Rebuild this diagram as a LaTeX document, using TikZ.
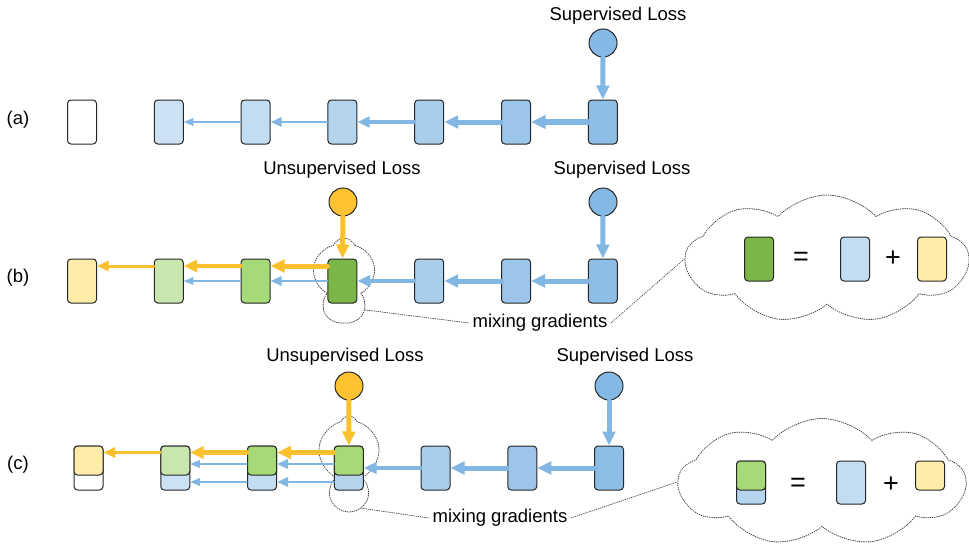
\documentclass[tikz,border=0pt]{standalone}
\usepackage{fontspec}
\setmainfont{Liberation Sans}
\usetikzlibrary{arrows.meta,shapes.symbols,positioning}

% gradient shades, pale to deep
\definecolor{bl1}{HTML}{CCE1F3}
\definecolor{bl2}{HTML}{C2DCF1}
\definecolor{bl3}{HTML}{B5D5EE}
\definecolor{bl4}{HTML}{A9CEEC}
\definecolor{bl5}{HTML}{9CC6E9}
\definecolor{bl6}{HTML}{8EBEE6}
\definecolor{gr1}{HTML}{C8E6AD}
\definecolor{gr2}{HTML}{A6D977}
\definecolor{gr3}{HTML}{7AB648}
\definecolor{ylw}{HTML}{FFECA8}
\definecolor{gblue}{HTML}{82B7E3}
\definecolor{gorange}{HTML}{FBC02D}
\definecolor{lblue}{HTML}{84B9E5}
\definecolor{lorange}{HTML}{FFC233}

\tikzset{
  blk/.style={draw=black!85, line width=1pt, rounded corners=3.5pt,
    minimum width=29pt, minimum height=44pt, inner sep=0pt, fill=#1},
  topblk/.style={blk=#1, minimum height=29pt},
  loss/.style={circle, draw=black!85, line width=1pt, minimum size=28pt,
    inner sep=0pt, fill=#1},
  bgrad/.style={draw=gblue, line width=#1,
    -{Triangle[length=8pt 1.2, width=6pt 1.3]}},
  ograd/.style={draw=gorange, line width=#1,
    -{Triangle[length=8pt 1.2, width=6pt 1.3]}},
  fine dots/.style={draw=black!75, line width=0.8pt, dash pattern=on 0.9pt off 1.3pt},
  mix/.style={cloud, cloud puffs=#1, cloud puff arc=95, fine dots},
  smallmix/.style={cloud, cloud puffs=5, cloud puff arc=140, fine dots},
  callout/.style={fine dots, line width=0.7pt},
  op/.style={font=\fontsize{27}{30}\selectfont},
}

\begin{document}
\begin{tikzpicture}[x=1pt,y=-1pt,font=\fontsize{18.5}{22}\selectfont,line cap=round]
\useasboundingbox (0,0) rectangle (969,546);

% row labels
\node (la) at (18,120) {(a)};
\node (lb) at (18,278) {(b)};
\node (lc) at (18,465) {(c)};

%% (a) supervised only
\foreach \i/\c in {1/white,2/bl1,3/bl2,4/bl3,5/bl4,6/bl5,7/bl6}
  \node[blk=\c] (a\i) at ({82+86.8*(\i-1)},122) {};
\foreach \i/\j/\w in {7/6/5.5pt,6/5/5pt,5/4/3.5pt,4/3/2.5pt,3/2/1.3pt}
  \draw[bgrad=\w] (a\i) -- (a\j);
\node[loss=lblue] (sa) at (603,43) {};
\node (sat) at (618,16) {Supervised Loss};
\draw[bgrad=5pt] (sa) -- (a7);

%% (b) gradients mixed into one block
\node[smallmix, minimum width=64pt, minimum height=84pt] (mb) at (344,280) {};
\foreach \i/\c in {1/ylw,2/gr1,3/gr2,4/gr3,5/bl4,6/bl5,7/bl6}
  \node[blk=\c] (b\i) at ({82+86.8*(\i-1)},281) {};
\foreach \i/\j/\w in {7/6/5pt,6/5/5pt,5/4/4pt,4/3/2.5pt,3/2/1.3pt}
  \draw[bgrad=\w] (b\i) -- (b\j);
\foreach \i/\j/\w in {4/3/5pt,3/2/4.5pt,2/1/3pt}
  \draw[ograd=\w] ([yshift=15pt]b\i.west) -- ([yshift=15pt]b\j.east);
\node[loss=lorange] (ub) at (343,202) {};
\node (ubt) at (342,170) {Unsupervised Loss};
\draw[ograd=5pt] (ub) -- (b4);
\node[loss=lblue] (sb) at (603,202) {};
\node (sbt) at (622,170) {Supervised Loss};
\draw[bgrad=5pt] (sb) -- (b7);

\node (mgb) at (540,323) {mixing gradients};
\node[mix=9, minimum width=283pt, minimum height=128pt] (eqb) at (827,259) {};
\draw[callout] (mb.-55) -- (mgb.west);
\draw[callout] (mgb.east) -- (eqb.west);
\node[blk=gr3] (eb1) at (759,259) {};
\node[op] (eb2) at (801,259) {=};
\node[blk=bl2] (eb3) at (855,259) {};
\node[op] (eb4) at (893,259) {+};
\node[blk=ylw] (eb5) at (932,259) {};

%% (c) gradients kept apart in stacked blocks
\node[smallmix, minimum width=63pt, minimum height=92pt] (mc) at (349,462) {};
\foreach \i/\c in {1/white,2/bl1,3/bl2,4/bl3,5/bl4,6/bl5,7/bl6}
  \node[blk=\c] (c\i) at ({88.5+86.75*(\i-1)},468) {};
\foreach \i/\c in {1/ylw,2/gr1,3/gr2,4/gr2}
  \node[topblk=\c, anchor=north] (c\i t) at (c\i.north) {};
\foreach \i/\j/\w in {7/6/5pt,6/5/5pt,5/4/4pt}
  \draw[bgrad=\w] (c\i) -- (c\j);
\foreach \i/\j/\w in {4/3/2.5pt,3/2/1.3pt}{
  \draw[bgrad=\w] ([yshift=4pt]c\i.west) -- ([yshift=4pt]c\j.east);
  \draw[bgrad=\w] ([yshift=-14pt]c\i.west) -- ([yshift=-14pt]c\j.east);
}
\foreach \i/\j/\w in {4/3/5pt,3/2/4.5pt,2/1/3pt}
  \draw[ograd=\w] ([yshift=15.5pt]c\i.west) -- ([yshift=15.5pt]c\j.east);
\node[loss=lorange] (uc) at (349,386) {};
\node (uct) at (345,357) {Unsupervised Loss};
\draw[ograd=5pt] (uc) -- (c4t);
\node[loss=lblue] (sc) at (609,386) {};
\node (sct) at (625,357) {Supervised Loss};
\draw[bgrad=5pt] (sc) -- (c7);

\node (mgc) at (500,518) {mixing gradients};
\node[mix=9, minimum width=287pt, minimum height=127pt] (eqc) at (822,482) {};
\draw[callout] (mc.-75) -- (mgc.west);
\draw[callout] (mgc.east) -- (eqc.west);
\node[blk=bl3, minimum height=43pt] (ec1) at (751,482.5) {};
\node[topblk=gr2, anchor=north] (ec1t) at (ec1.north) {};
\node[op] (ec2) at (798,485) {=};
\node[blk=bl2, minimum height=43pt] (ec3) at (851,482.5) {};
\node[op] (ec4) at (891,485) {+};
\node[topblk=ylw] (ec5) at (930,475.5) {};
\end{tikzpicture}
\end{document}
